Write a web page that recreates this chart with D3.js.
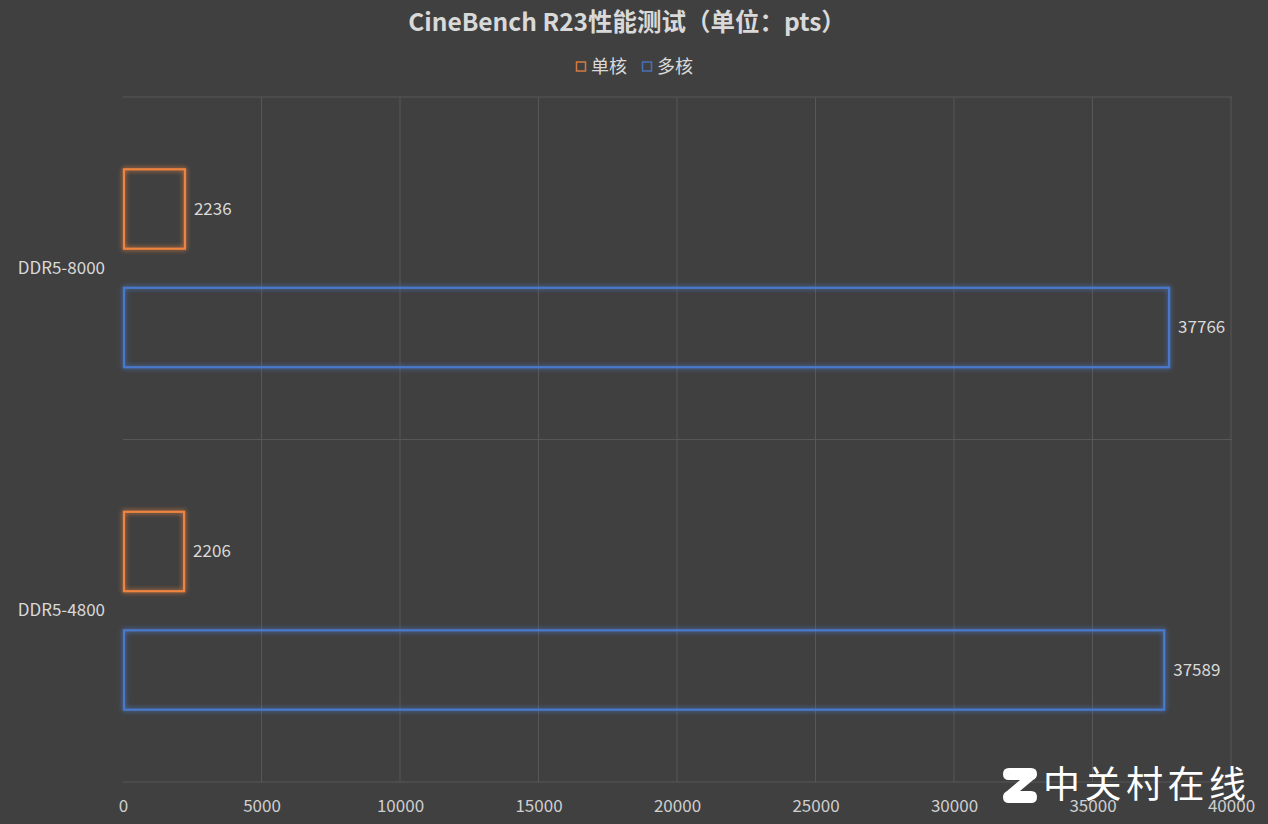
<!DOCTYPE html>
<html><head><meta charset="utf-8">
<script src="https://cdn.jsdelivr.net/npm/d3@7"></script>
<style>
html,body{margin:0;padding:0;background:#404040;}
svg{display:block;}
text{font-family:"Noto Sans CJK SC","Noto Sans",sans-serif;}
</style></head>
<body>
<svg id="chart" width="1268" height="824"></svg>
<script>
const categories = ["DDR5-8000", "DDR5-4800"];
const seriesNames = ["单核", "多核"];
const singleCore = [2236, 2206];
const multiCore = [37766, 37589];
const xTicks = [0, 5000, 10000, 15000, 20000, 25000, 30000, 35000, 40000];
const titleText = "CineBench R23性能测试（单位：pts）";
const watermark = "中关村在线";

const colors = {"单核": "#ee843f", "多核": "#4a79cc"};
const W = 1268, H = 824;
const m = {left: 123, right: 1231, top: 97, bottom: 782};

const svg = d3.select("#chart");
svg.append("rect").attr("width", W).attr("height", H).attr("fill", "#404040");

const defs = svg.append("defs");
const glow = defs.append("filter").attr("id", "glow").attr("x", "-20%").attr("y", "-20%").attr("width", "140%").attr("height", "140%");
glow.append("feGaussianBlur").attr("in", "SourceGraphic").attr("stdDeviation", 2.5).attr("result", "b");
const fm = glow.append("feMerge");
fm.append("feMergeNode").attr("in", "b");
fm.append("feMergeNode").attr("in", "SourceGraphic");

const x = d3.scaleLinear().domain([0, 40000]).range([m.left, m.right]);
const y = d3.scaleBand().domain(categories).range([m.top, m.bottom]).padding(0);
const ys = d3.scaleBand().domain(seriesNames).range([0, y.bandwidth()]).paddingInner(0.33).paddingOuter(0.61);

// gridlines
const grid = svg.append("g");
grid.selectAll("line.v").data(xTicks.filter(d => d > 0)).join("line")
  .attr("x1", d => x(d)).attr("x2", d => x(d))
  .attr("y1", m.top).attr("y2", m.bottom)
  .attr("stroke", "#575757").attr("stroke-width", 1);
const sepYs = [m.top].concat(categories.map(c => y(c) + y.bandwidth()));
grid.selectAll("line.h").data(sepYs).join("line")
  .attr("x1", m.left).attr("x2", m.right + 1)
  .attr("y1", d => d).attr("y2", d => d)
  .attr("stroke", "#575757").attr("stroke-width", 1);

// y axis labels
const yAxis = d3.axisLeft(y).tickSize(0).tickPadding(0);
const ay = svg.append("g").attr("transform", `translate(105,0)`).call(yAxis);
ay.select(".domain").remove();
ay.selectAll("text").attr("fill", "#d9d9d9").attr("font-size", 17);

// bars
const rows = [];
categories.forEach((c, i) => {
  rows.push({cat: c, s: "单核", v: singleCore[i]});
  rows.push({cat: c, s: "多核", v: multiCore[i]});
});
const bars = svg.append("g");
bars.selectAll("rect").data(rows).join("rect")
  .attr("x", x(0) + 1)
  .attr("y", d => y(d.cat) + ys(d.s))
  .attr("width", d => x(d.v) - x(0) - 1)
  .attr("height", ys.bandwidth())
  .attr("fill", "none")
  .attr("stroke", d => colors[d.s])
  .attr("stroke-width", 2.2)
  .attr("filter", "url(#glow)");

svg.append("g").selectAll("text").data(rows).join("text")
  .attr("x", d => x(d.v) + 9)
  .attr("y", d => y(d.cat) + ys(d.s) + ys.bandwidth() / 2)
  .attr("dy", "0.35em")
  .attr("fill", "#d9d9d9").attr("font-size", 17)
  .text(d => d.v);

// title
svg.append("text").attr("x", 627).attr("y", 22).attr("dy", "0.35em").attr("text-anchor", "middle")
  .attr("fill", "#d9d9d9").attr("font-size", 24.5).attr("font-weight", "bold")
  .text(titleText);

// legend
const lg = svg.append("g");
const legendX = [576, 642];
seriesNames.forEach((s, i) => {
  const g = lg.append("g").attr("transform", `translate(${legendX[i]},0)`);
  g.append("rect").attr("x", 0.5).attr("y", 62).attr("width", 9).attr("height", 9)
    .attr("fill", "none").attr("stroke", colors[s]).attr("stroke-width", 1.5).attr("opacity", 0.85);
  g.append("text").attr("x", 15).attr("y", 67).attr("dy", "0.35em")
    .attr("fill", "#d9d9d9").attr("font-size", 18).text(s);
});

// watermark
const wm = svg.append("g");
wm.append("path")
  .attr("d", "M1009,768 L1031,768 Q1037,768 1037,774 Q1037,778 1033,780 L1020,791 L1031,791 Q1037,791 1037,797 Q1037,803 1031,803 L1009,803 Q1003,803 1003,797 Q1003,793 1007,791 L1020,780 L1009,780 Q1003,780 1003,774 Q1003,768 1009,768 Z")
  .attr("fill", "#ffffff");
wm.append("text").attr("x", 1043).attr("y", 785).attr("dy", "0.35em")
  .attr("fill", "#ffffff").attr("font-size", 37).attr("letter-spacing", 4.5)
  .text(watermark);

// x axis tick labels (drawn over the watermark, as in the reference)
const xAxis = d3.axisBottom(x).tickValues(xTicks).tickSize(0).tickPadding(0).tickFormat(d3.format("d"));
const ax = svg.append("g").attr("transform", `translate(0,${m.bottom + 18})`).call(xAxis);
ax.select(".domain").remove();
ax.selectAll("text").attr("fill", "#cfcfcf").attr("font-size", 17).attr("dy", "0.71em");
</script>
</body></html>
